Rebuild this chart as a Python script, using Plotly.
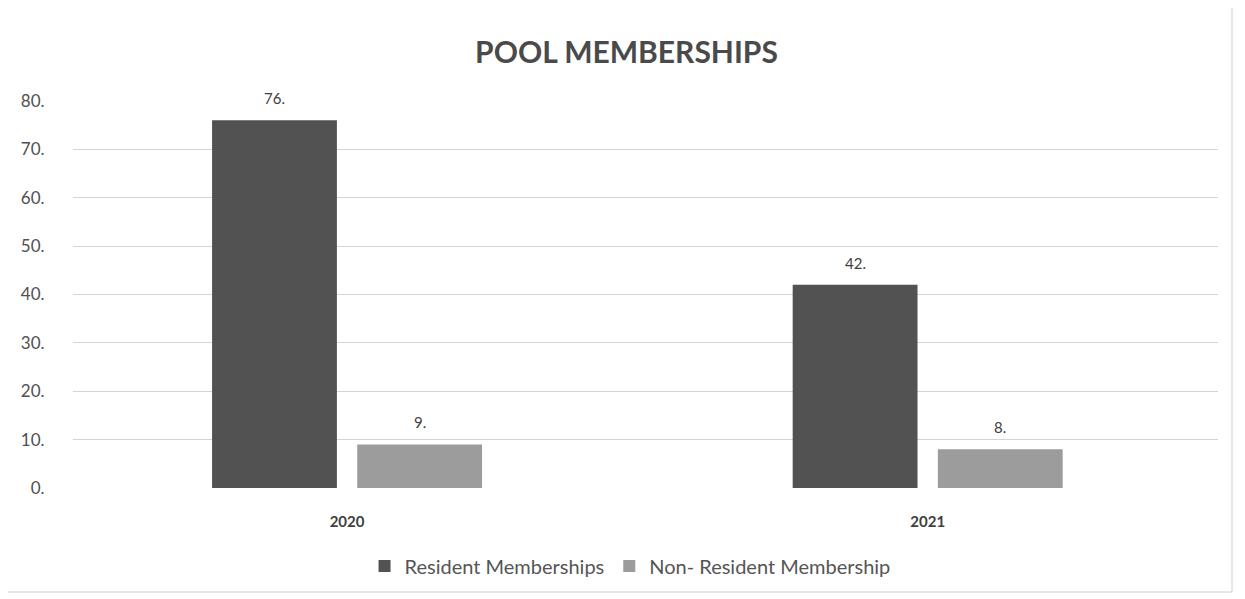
import plotly.graph_objects as go

categories = ["2020", "2021"]
resident = [76, 42]
non_resident = [9, 8]
series_names = ["Resident Memberships", "Non- Resident Membership"]
y_ticks = [0, 10, 20, 30, 40, 50, 60, 70, 80]
y_tick_labels = ["0.", "10.", "20.", "30.", "40.", "50.", "60.", "70.", "80."]

FONT = "Lato, 'Open Sans', sans-serif"
BAR_GAP = 0.5
SLOT = (1 - BAR_GAP) / 2

fig = go.Figure()
annotations = []
for k, (name, vals, color) in enumerate([(series_names[0], resident, "#525252"),
                                         (series_names[1], non_resident, "#9c9c9c")]):
    fig.add_trace(go.Bar(
        x=list(range(len(categories))), y=vals, name=name,
        marker=dict(color=color, line=dict(width=0)),
    ))
    off = (k - 0.5) * SLOT
    for i, v in enumerate(vals):
        annotations.append(dict(x=i + off, y=v, xref="x", yref="y",
                                text=f"{v}.", showarrow=False, yshift=22,
                                yanchor="middle",
                                font=dict(family=FONT, size=15, color="#404040")))

fig.update_layout(
    width=1237, height=591,
    margin=dict(l=65, r=27, t=93, b=111),
    paper_bgcolor="white", plot_bgcolor="white",
    barmode="group", bargap=BAR_GAP, bargroupgap=0.14,
    title=dict(text="<b>POOL MEMBERSHIPS</b>", x=0.5, xanchor="center",
               y=1 - 44 / 591, yanchor="middle",
               font=dict(family=FONT, size=30, color="#4a4a4a")),
    font=dict(family=FONT, color="#505050"),
    showlegend=True,
    legend=dict(orientation="h", x=0.4865, xanchor="center",
                y=(488 - 566) / 387, yanchor="middle",
                font=dict(family=FONT, size=20, color="#555555"),
                itemwidth=30, traceorder="normal"),
    xaxis=dict(range=[-0.472, 1.5], tickmode="array", tickvals=[0, 1],
               ticktext=[f"<b>{c}</b>" for c in categories],
               showgrid=False, zeroline=False, showline=False,
               ticks="outside", ticklen=20, tickcolor="rgba(0,0,0,0)",
               tickfont=dict(family=FONT, size=15, color="#404040")),
    yaxis=dict(range=[0, 80], tickmode="array", tickvals=y_ticks,
               ticktext=y_tick_labels, showgrid=True, gridcolor="#d4d4d4",
               gridwidth=1, zeroline=False, showline=False,
               ticks="outside", ticklen=24, tickcolor="rgba(0,0,0,0)",
               tickfont=dict(family=FONT, size=17, color="#505050")),
    annotations=annotations,
    shapes=[dict(type="rect", xref="paper", yref="paper",
                 x0=(7 - 73) / 1145, x1=(1232 - 73) / 1145,
                 y0=(488 - 592) / 387, y1=(488 - 7) / 387,
                 line=dict(color="#cfcfcf", width=1), fillcolor="rgba(0,0,0,0)",
                 layer="below")],
)

fig.write_html("out.html")
